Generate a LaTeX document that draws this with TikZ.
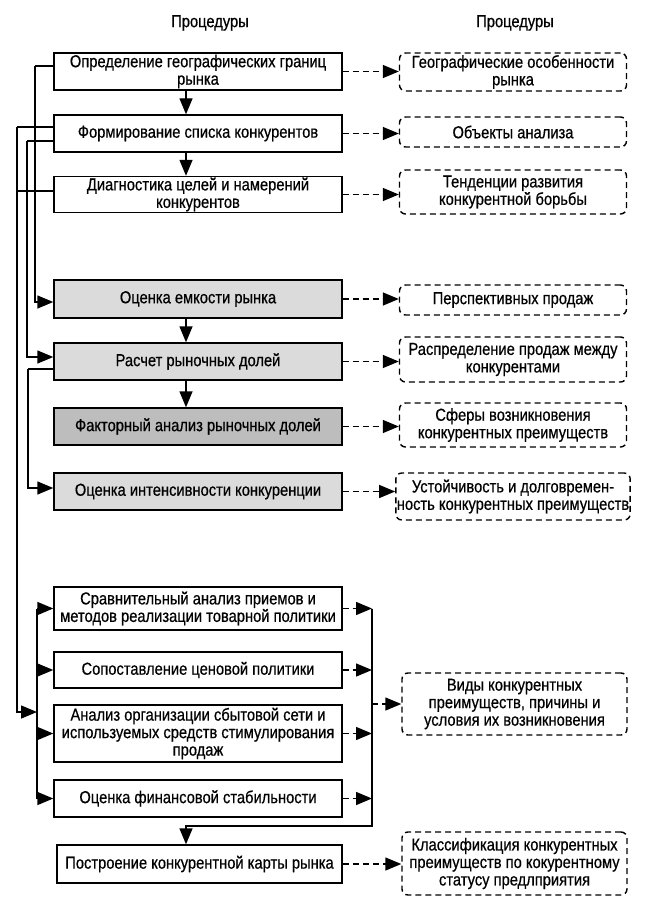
\documentclass[tikz,border=0pt]{standalone}
\usepackage{fontspec}
\setmainfont{Liberation Sans}[FakeStretch=0.85,FakeBold=0.6]
\usetikzlibrary{arrows.meta}
\begin{document}
\begin{tikzpicture}[x=1pt,y=-1pt,
  font=\fontsize{17.3pt}{17.5pt}\selectfont,
  box/.style={draw, line width=1.4pt, minimum width=288pt, align=center, inner sep=1pt},
  rbox/.style={draw, line width=1.4pt, dash pattern=on 6pt off 4pt, rounded corners=6pt, minimum width=227pt, align=center, inner sep=1pt},
  lite/.style={fill=black!14},
  dark/.style={fill=black!26},
  arr/.style={-{Triangle[length=16pt,width=13pt]}, line width=1.4pt},
  darr/.style={arr, dash pattern=on 6pt off 4pt},
  ln/.style={line width=1.4pt}
]
\useasboundingbox (0,0) rectangle (649,920);
% headings
\node (h1) at (210,23) {Процедуры};
\node (h2) at (515,23) {Процедуры};
% left boxes
\node[box, minimum height=37pt] (b1) at (198,71.5) {Определение географических границ\\рынка};
\node[box, minimum height=37pt] (b2) at (198,133.5) {Формирование списка конкурентов};
\node[box, minimum height=36pt] (b3) at (198,194.5) {Диагностика целей и намерений\\конкурентов};
\node[box, lite, minimum height=38pt] (b4) at (198,299) {Оценка емкости рынка};
\node[box, lite, minimum height=37pt] (b5) at (198,361.5) {Расчет рыночных долей};
\node[box, dark, minimum height=37pt] (b6) at (198,426.5) {Факторный анализ рыночных долей};
\node[box, lite, minimum height=37pt] (b7) at (198,491.5) {Оценка интенсивности конкуренции};
\node[box, minimum height=43pt] (b8) at (198,608.5) {Сравнительный анализ приемов и\\методов реализации товарной политики};
\node[box, minimum height=36pt] (b9) at (198,670) {Сопоставление ценовой политики};
\node[box, minimum height=57pt] (b10) at (198,733.5) {Анализ организации сбытовой сети и\\используемых средств стимулирования\\продаж};
\node[box, minimum height=37pt] (b11) at (198,798.5) {Оценка финансовой стабильности};
\node[box, minimum height=38pt, minimum width=285pt] (b12) at (199.5,864) {Построение конкурентной карты рынка};
% right boxes
\node[rbox, minimum height=38pt] (r1) at (513,72) {Географические особенности\\рынка};
\node[rbox, minimum height=30pt] (r2) at (513,132) {Объекты анализа};
\node[rbox, minimum height=44pt] (r3) at (513,192) {Тенденции развития\\конкурентной борьбы};
\node[rbox, minimum height=30pt] (r4) at (513,300) {Перспективных продаж};
\node[rbox, minimum height=45pt] (r5) at (513,359.5) {Распределение продаж между\\конкурентами};
\node[rbox, minimum height=44pt] (r6) at (513,425) {Сферы возникновения\\конкурентных преимуществ};
\node[rbox, minimum height=47pt] (r7) at (513,496.5) {Устойчивость и долговремен-\\ность конкурентных преимуществ};
\node[rbox, minimum height=62pt, minimum width=225pt] (r8) at (514.5,704) {Виды конкурентных\\преимуществ, причины и\\условия их возникновения};
\node[rbox, minimum height=63pt, minimum width=225pt] (r9) at (514.5,863.5) {Классификация конкурентных\\преимуществ по кокурентному\\статусу предлприятия};
% vertical flow arrows
\coordinate (vx) at (186,0);
\draw[arr] (b1.south -| vx) -- (b2.north -| vx);
\draw[arr] (b2.south -| vx) -- (b3.north -| vx);
\draw[arr] (b4.south -| vx) -- (b5.north -| vx);
\draw[arr] (b5.south -| vx) -- (b6.north -| vx);
% dashed arrows to right boxes
\foreach \a/\b in {b1/r1,b2/r2,b3/r3,b4/r4,b5/r5,b6/r6,b7/r7}
  \draw[darr] (\a.east) -- (\a.east -| \b.west);
\draw[darr] (b12.east) -- (b12.east -| r9.west);
% left connectors
\coordinate (y1) at (0,66);
\coordinate (y2a) at (0,127);
\coordinate (y2b) at (0,141);
\coordinate (y3) at (0,191);
\coordinate (y4) at (0,302);
\coordinate (y5a) at (0,357);
\coordinate (y5b) at (0,369);
\coordinate (y7) at (0,488);
\coordinate (yj) at (0,712);
\coordinate (L1) at (35,0);
\coordinate (L2) at (17,0);
\coordinate (L3) at (27,0);
\coordinate (L4) at (28,0);
\coordinate (LB) at (37,0);
\draw[ln] (b1.west |- y1) -- (L1 |- y1);
\draw[arr] (L1 |- y1) -- (L1 |- y4) -- (b4.west |- y4);
\draw[ln] (b2.west |- y2a) -- (L2 |- y2a);
\draw[ln] (b3.west |- y3) -- (L2 |- y3);
\draw[arr] (L2 |- y2a) -- (L2 |- yj) -- (LB |- yj);
\draw[ln] (b2.west |- y2b) -- (L3 |- y2b);
\draw[arr] (L3 |- y2b) -- (L3 |- y5a) -- (b5.west |- y5a);
\draw[ln] (b5.west |- y5b) -- (L4 |- y5b);
\draw[arr] (L4 |- y5b) -- (L4 |- y7) -- (b7.west |- y7);
% left bus
\draw[ln] (LB |- b8.west) -- (LB |- b11.west);
\foreach \t in {b8,b9,b10,b11}
  \draw[arr] (LB |- \t.west) -- (\t.west);
% right bus
\coordinate (RB) at (372,0);
\coordinate (yb) at (0,826);
\foreach \t in {b8,b9,b10,b11}
  \draw[darr] (\t.east) -- (RB |- \t.east);
\draw[arr] (RB |- b8.east) -- (RB |- yb) -- (vx |- yb) -- (vx |- b12.north);
\draw[darr] (RB |- r8.west) -- (r8.west);
\end{tikzpicture}
\end{document}
